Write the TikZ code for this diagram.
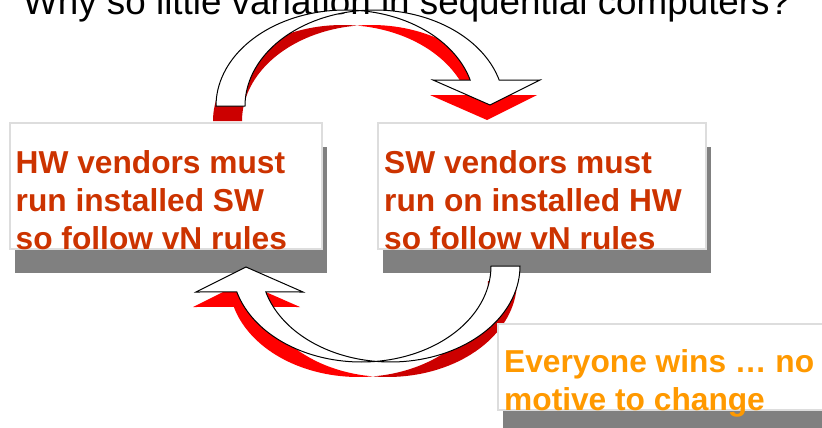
\documentclass[tikz,border=0pt]{standalone}
\usepackage{fontspec}
\setmainfont{Liberation Sans}
\usetikzlibrary{shadows}

\definecolor{vendor}{HTML}{CC3300}
\definecolor{winner}{HTML}{FF9900}
\definecolor{arrowred}{HTML}{FF0000}
\definecolor{arrowdark}{HTML}{CC0000}
\definecolor{shadowgray}{HTML}{808080}
\definecolor{cardline}{HTML}{DDDDDD}

% back and front halves of the curved block arrow (pixel units)
\newcommand{\bandback}{(213,121)
  -- plot[domain=180:83.6, samples=40, variable=\t] ({342.5+129.5*cos(\t)}, {121-96*sin(\t)})
  -- plot[domain=96.4:180, samples=40, variable=\t] ({371.5+129.5*cos(\t)}, {121-96*sin(\t)})
  -- cycle}
\newcommand{\bandfront}{(357,25.6)
  -- plot[domain=96.4:15.7, samples=40, variable=\t] ({371.5+129.5*cos(\t)}, {121-96*sin(\t)})
  -- (537,95) -- (487,120) -- (430,95)
  -- plot[domain=15.7:83.6, samples=40, variable=\t] ({342.5+129.5*cos(\t)}, {121-96*sin(\t)})
  -- cycle}

\begin{document}
\begin{tikzpicture}[
      x=1pt, y=-1pt,
      card/.style={draw=cardline, line width=1.5pt, fill=white, anchor=north west,
                   inner sep=0pt, minimum height=126pt,
                   drop shadow={shadow xshift=5pt, shadow yshift=-24pt, fill=shadowgray, opacity=1}},
      vendortext/.style={anchor=base west, align=left, inner sep=0pt, text=vendor,
                         font=\fontsize{31.7}{38}\selectfont\bfseries},
      redback/.style={fill=arrowdark},
      redfront/.style={fill=arrowred},
      ghost/.style={draw=black, line width=1pt, fill=white, line join=miter}
    ]
    \path[use as bounding box, clip] (0,0) rectangle (822,428);

    % --- Title ---
    \node[anchor=base west, inner sep=0pt, font=\fontsize{36.8}{44}\selectfont] (title)
      at (23,15) {Why so little variation in sequential computers?};

    % --- Vendor boxes ---
    \node[card, minimum width=312pt] (hw) at (9,122) {};
    \node[card, minimum width=328pt] (sw) at (377,122) {};
    \node[vendortext] (hwtext) at ([shift={(6.5,127)}]hw.north west)
      {HW vendors must\\run installed SW\\so follow vN rules};
    \node[vendortext] (swtext) at ([shift={(7,127)}]sw.north west)
      {SW vendors must\\run on installed HW\\so follow vN rules};

    % --- Top arrow: HW -> SW ---
    \fill[redback] \bandback;
    \fill[redfront] \bandfront;
    \begin{scope}[shift={(3,-15)}]
      \draw[ghost] \bandback;
      \draw[ghost] \bandfront;
    \end{scope}

    % --- Bottom arrow: SW -> HW ---
    \begin{scope}[rotate around={180:(365,201)}]
      \fill[redback] \bandback;
      \fill[redfront] \bandfront;
    \end{scope}
    \begin{scope}[shift={(3,-15)}]
      \begin{scope}[rotate around={180:(365,201)}]
        \draw[ghost] \bandback;
        \draw[ghost] \bandfront;
      \end{scope}
    \end{scope}

    % --- Outcome box ---
    \node[card, minimum width=400pt, minimum height=86pt] (win) at (497,323) {};
    \node[vendortext, text=winner] (wintext) at ([shift={(7,87)}]win.north west)
      {Everyone wins \dots\ no\\motive to change};

  \end{tikzpicture}
\end{document}
